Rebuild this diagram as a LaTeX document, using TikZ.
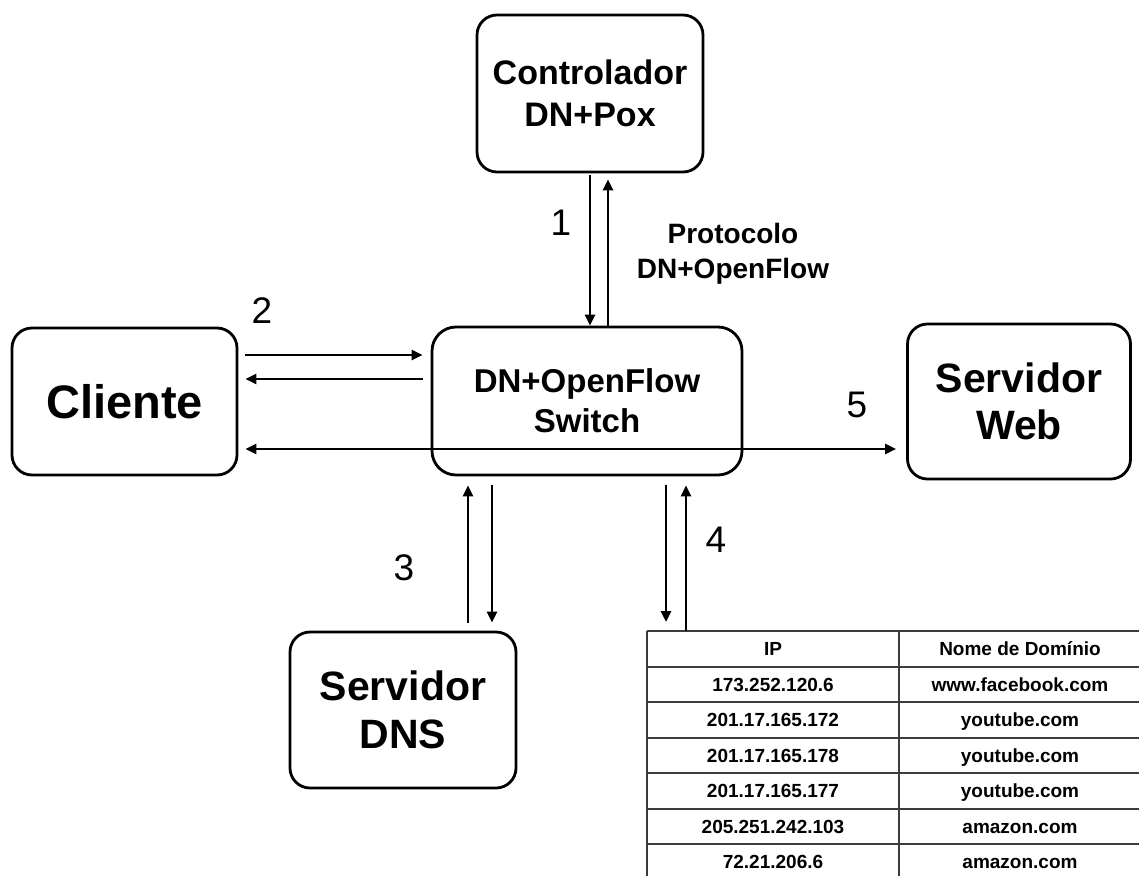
\documentclass[tikz,border=0pt]{standalone}
\usepackage{fontspec}
\setmainfont{Liberation Sans}
\usetikzlibrary{arrows.meta,calc}
\definecolor{gridgray}{HTML}{3C3C3C}
\begin{document}
\begin{tikzpicture}[x=1pt,y=-1pt,
  box/.style={draw, line width=2.8pt, rounded corners=20pt, align=center, inner sep=0pt},
  tip/.style={},
  arr/.style={line width=2.8pt, -{Triangle[length=11pt,width=10pt]}},
  arrboth/.style={line width=2.8pt, {Triangle[length=11pt,width=10pt]}-{Triangle[length=11pt,width=10pt]}},
  num/.style={font=\fontsize{37}{37}\selectfont},
  tline/.style={draw=gridgray, line width=2pt},
  cell/.style={font=\bfseries\fontsize{19}{19}\selectfont, inner sep=0pt, anchor=base}
]
\useasboundingbox (0,0) rectangle (1139,875);
\clip (0,0) rectangle (1139,875);

% boxes
\node[box, minimum width=226pt, minimum height=157pt, font=\bfseries\fontsize{34}{42}\selectfont] (ctrl) at (590,93.5) {Controlador\\DN+Pox};
\node[box, minimum width=310pt, minimum height=148pt, rounded corners=24pt, font=\bfseries\fontsize{33}{40}\selectfont] (sw) at (587,401) {DN+OpenFlow\\Switch};
\node[box, minimum width=225pt, minimum height=147pt, font=\bfseries\fontsize{47}{47}\selectfont] (cli) at (124.5,401.5) {Cliente};
\node[box, minimum width=223pt, minimum height=155pt, font=\bfseries\fontsize{41}{47}\selectfont] (web) at (1019,401.5) {Servidor\\Web};
\node[box, minimum width=226pt, minimum height=156pt, font=\bfseries\fontsize{41}{48}\selectfont] (dns) at (403,710) {Servidor\\DNS};

% protocol caption
\node[align=center, font=\bfseries\fontsize{28}{35}\selectfont] (proto) at (733,254) {Protocolo\\DN+OpenFlow};

% step numbers
\node[num] (n1) at (561,223) {1};
\node[num] (n2) at (262,311) {2};
\node[num] (n3) at (404,568) {3};
\node[num] (n4) at (716,540) {4};
\node[num] (n5) at (857,405) {5};

% lookup table
\coordinate (tbl) at (647,631);
\foreach \i in {0,...,6} {
  \draw[tline] (647,631+35.5*\i) -- (1145,631+35.5*\i);
}
\draw[tline] (647,631) -- (647,880);
\draw[tline] (899,631) -- (899,880);
\foreach \ip/\dom [count=\k from 0] in {
  IP/Nome de Domínio,
  173.252.120.6/www.facebook.com,
  201.17.165.172/youtube.com,
  201.17.165.178/youtube.com,
  201.17.165.177/youtube.com,
  205.251.242.103/amazon.com,
  72.21.206.6/amazon.com} {
  \node[cell] (ip-\k) at (773,631+35.5*\k+24.5) {\ip};
  \node[cell] (dom-\k) at (1020,631+35.5*\k+24.5) {\dom};
}

% guide coordinates for connector positions
\coordinate (x1a) at (590,0);
\coordinate (x1b) at (608,0);
\coordinate (x3a) at (468,0);
\coordinate (x3b) at (492,0);
\coordinate (x4a) at (666,0);
\coordinate (x4b) at (686,0);
\coordinate (y2a) at (0,355);
\coordinate (y2b) at (0,379);
\coordinate (y5) at (0,449);

% 1: controller <-> switch
\draw[arr, shorten <=2pt] (ctrl.south -| x1a) -- (sw.north -| x1a);
\draw[arr, shorten >=6pt] (sw.north -| x1b) -- (ctrl.south -| x1b);
% 2: client <-> switch
\draw[arr, shorten <=7pt, shorten >=8pt] (cli.east |- y2a) -- (sw.west |- y2a);
\draw[arr, shorten <=8pt, shorten >=7pt] (sw.west |- y2b) -- (cli.east |- y2b);
% 5: client <-> web server
\draw[arrboth, shorten <=7pt, shorten >=10pt] (cli.east |- y5) -- (web.west |- y5);
% 3: switch <-> DNS server
\draw[arr, shorten <=8pt, shorten >=9pt] (dns.north -| x3a) -- (sw.south -| x3a);
\draw[arr, shorten <=9pt, shorten >=8pt] (sw.south -| x3b) -- (dns.north -| x3b);
% 4: switch <-> table
\draw[arr, shorten <=9pt, shorten >=9pt] (sw.south -| x4a) -- (tbl -| x4a);
\draw[arr, shorten >=9pt] (tbl -| x4b) -- (sw.south -| x4b);
\end{tikzpicture}
\end{document}
